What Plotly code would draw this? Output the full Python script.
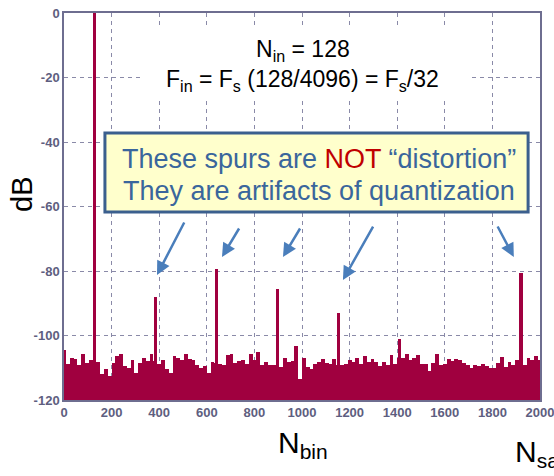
import plotly.graph_objects as go

# ---------------- data ----------------
noise_bins = list(range(0, 2048, 16))
noise_db = [
    -104.5, -108.7, -107.0, -107.2, -109.0, -105.8, -108.5, -107.5,
    -108.0, -108.2, -112.0, -110.5, -112.5, -108.5, -106.5, -105.6,
    -109.5, -110.0, -107.5, -111.5, -108.5, -107.0, -108.0, -105.6,
    -108.0, -108.7, -107.5, -110.5, -111.5, -106.5, -107.0, -107.5,
    -105.8, -107.3, -107.7, -109.2, -110.0, -109.5, -111.5, -108.2,
    -108.5, -108.7, -109.0, -106.1, -105.6, -108.5, -108.0, -107.5,
    -108.8, -105.6, -107.5, -105.0, -109.2, -108.2, -109.2, -109.0,
    -109.0, -109.7, -107.0, -108.2, -107.8, -103.2, -113.5, -107.0,
    -109.7, -110.5, -108.7, -108.2, -107.2, -108.5, -108.7, -107.3,
    -109.0, -109.2, -108.7, -107.5, -108.2, -107.1, -108.7, -106.5,
    -108.2, -107.3, -108.2, -109.5, -108.2, -109.0, -106.0, -108.7,
    -107.0, -107.1, -105.6, -107.5, -107.1, -106.0, -108.7, -108.7,
    -111.0, -108.5, -105.8, -109.0, -108.8, -107.2, -107.8, -107.3,
    -107.7, -108.5, -109.2, -110.2, -109.2, -109.5, -108.7, -109.5,
    -110.2, -110.0, -108.5, -106.8, -109.7, -108.2, -109.0, -107.5,
    -108.5, -109.0, -107.0, -107.5, -106.5, -107.5, -108.0, -108.0,
]

tone_bin = [128]
tone_db = [0]

spur_bins = [384, 640, 896, 1152, 1408, 1920]
spur_db = [-88.0, -79.3, -85.6, -93.0, -101.0, -80.7]

x_ticks = [0, 200, 400, 600, 800, 1000, 1200, 1400, 1600, 1800, 2000]
y_ticks = [0, -20, -40, -60, -80, -100, -120]

# ---------------- styling ----------------
RED = "#A0003F"
AX = "#6E6E90"
TICK = "#5E5E80"
BLUE_TXT = "#3A669C"
ARROW = "#4A7EBB"
FONT = "Arial, Liberation Sans, sans-serif"
FLOOR = -130

fig = go.Figure()

fig.add_trace(go.Bar(
    x=noise_bins, y=[v - FLOOR for v in noise_db], base=FLOOR,
    width=16, marker=dict(color=RED, line=dict(width=0)),
    hoverinfo="skip", showlegend=False))

fig.add_trace(go.Bar(
    x=spur_bins, y=[v - FLOOR for v in spur_db], base=FLOOR,
    width=13, marker=dict(color=RED, line=dict(width=0)),
    hoverinfo="skip", showlegend=False))

fig.add_trace(go.Bar(
    x=tone_bin, y=[v - FLOOR for v in tone_db], base=FLOOR,
    width=10, marker=dict(color=RED, line=dict(width=0)),
    hoverinfo="skip", showlegend=False))

fig.update_layout(
    template="none",
    width=554, height=476,
    margin=dict(l=64, r=14, t=13, b=76, pad=0),
    paper_bgcolor="white", plot_bgcolor="white",
    barmode="overlay", bargap=0,
    font=dict(family=FONT),
    showlegend=False,
)

axis_common = dict(
    showgrid=True, gridcolor="#8A8AA8", griddash="4px,4px", gridwidth=1,
    showline=True, linecolor=AX, linewidth=1.5, mirror=True,
    ticks="", tickfont=dict(size=13, color=TICK, family=FONT, weight="bold"),
    zeroline=False, fixedrange=True, automargin=False,
    ticklabeloverflow="allow",
)
fig.update_xaxes(range=[0, 2000], tickvals=x_ticks,
                 ticktext=[str(v) for v in x_ticks], ticklen=0, **axis_common)
fig.update_yaxes(range=[-120, 0], tickvals=y_ticks,
                 ticktext=[str(v) for v in y_ticks], **axis_common)

shapes = [
    # white patch behind the header text
    dict(type="rect", xref="paper", yref="paper",
         x0=0.160, x1=0.853, y0=0.780, y1=0.969,
         fillcolor="white", line=dict(width=0), layer="above"),
    # yellow call-out box
    dict(type="rect", xref="paper", yref="paper",
         x0=0.086, x1=0.975, y0=0.486, y1=0.690,
         fillcolor="#FFFFCC", line=dict(color="#3B5F8E", width=3), layer="above"),
]
fig.update_layout(shapes=shapes)


def label(x, y, text, size, color="black", **kw):
    d = dict(xref="paper", yref="paper", x=x, y=y, text=text, showarrow=False,
             xanchor="center", yanchor="middle",
             font=dict(size=size, color=color, family=FONT))
    d.update(kw)
    return d


ann = [
    label(0.502, 0.903, "N<sub>in</sub> = 128", 23),
    label(0.502, 0.825, "F<sub>in</sub> = F<sub>s</sub> (128/4096) = F<sub>s</sub>/32", 23),
    label(0.536, 0.622,
          "These spurs are <span style='color:#C00000'>NOT</span> \u201cdistortion\u201d",
          27, BLUE_TXT),
    label(0.536, 0.540, "They are artifacts of quantization", 27, BLUE_TXT),
    label(-0.088, 0.530, "dB", 29, textangle=-90),
    label(0.502, -0.115, "N<sub>bin</sub>", 30),
    label(0.943, -0.137, "N<sub>sa</sub>", 30, xanchor="left"),
]
# arrows
for hx, hy, ax, ay in [(0.1954, 0.323, 28, -54), (0.3319, 0.3695, 18, -30),
                       (0.460, 0.3695, 18, -30), (0.586, 0.310, 31, -55),
                       (0.945, 0.3695, -17, -32)]:
    ann.append(dict(xref="paper", yref="paper", x=hx, y=hy, ax=ax, ay=ay,
                    axref="pixel", ayref="pixel", text="", showarrow=True,
                    arrowhead=2, arrowsize=1.1, arrowwidth=2.5, arrowcolor=ARROW))
fig.update_layout(annotations=ann)

fig.write_html("out.html", config={"displayModeBar": False},
               post_script="document.body.style.margin='0px';")
